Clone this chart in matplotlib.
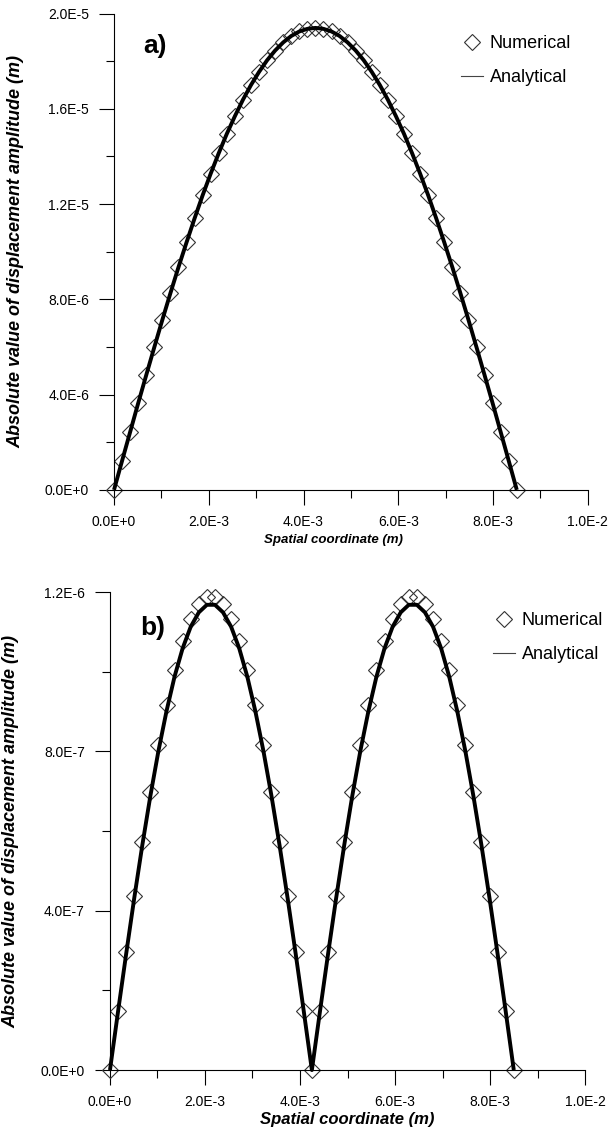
import matplotlib
matplotlib.use("Agg")
import matplotlib.pyplot as plt
from matplotlib.lines import Line2D
from matplotlib.ticker import FixedLocator, MultipleLocator

plt.rcParams['font.family'] = ['Liberation Sans', 'DejaVu Sans']

# spatial coordinate of the nodes (mm)
x_mm = [0.0, 0.17, 0.34, 0.51, 0.68, 0.85, 1.02, 1.19, 1.36, 1.53,
        1.70, 1.87, 2.04, 2.21, 2.38, 2.55, 2.72, 2.89, 3.06, 3.23,
        3.40, 3.57, 3.74, 3.91, 4.08, 4.25, 4.42, 4.59, 4.76, 4.93,
        5.10, 5.27, 5.44, 5.61, 5.78, 5.95, 6.12, 6.29, 6.46, 6.63,
        6.80, 6.97, 7.14, 7.31, 7.48, 7.65, 7.82, 7.99, 8.16, 8.33, 8.50]

# panel a) amplitudes (1E-5 m)
num_a = [0.0, 0.122, 0.243, 0.364, 0.482, 0.599, 0.714, 0.826, 0.935, 1.039,
         1.140, 1.237, 1.328, 1.414, 1.495, 1.569, 1.638, 1.700, 1.755, 1.804,
         1.845, 1.879, 1.906, 1.925, 1.936, 1.940, 1.936, 1.925, 1.906, 1.879,
         1.845, 1.804, 1.755, 1.700, 1.638, 1.569, 1.495, 1.414, 1.328, 1.237,
         1.140, 1.039, 0.935, 0.826, 0.714, 0.599, 0.482, 0.364, 0.243, 0.122, 0.0]
ana_a = [0.0, 0.122, 0.243, 0.364, 0.482, 0.599, 0.714, 0.826, 0.935, 1.039,
         1.140, 1.237, 1.328, 1.414, 1.495, 1.569, 1.638, 1.700, 1.755, 1.804,
         1.845, 1.879, 1.906, 1.925, 1.936, 1.940, 1.936, 1.925, 1.906, 1.879,
         1.845, 1.804, 1.755, 1.700, 1.638, 1.569, 1.495, 1.414, 1.328, 1.237,
         1.140, 1.039, 0.935, 0.826, 0.714, 0.599, 0.482, 0.364, 0.243, 0.122, 0.0]

# panel b) amplitudes (1E-6 m)
num_b = [0.0, 0.149, 0.296, 0.438, 0.573, 0.699, 0.815, 0.917, 1.005, 1.077,
         1.132, 1.169, 1.188, 1.188, 1.169, 1.132, 1.077, 1.005, 0.917, 0.815,
         0.699, 0.573, 0.438, 0.296, 0.149, 0.0, 0.149, 0.296, 0.438, 0.573,
         0.699, 0.815, 0.917, 1.005, 1.077, 1.132, 1.169, 1.188, 1.188, 1.169,
         1.132, 1.077, 1.005, 0.917, 0.815, 0.699, 0.573, 0.438, 0.296, 0.149, 0.0]
ana_b = [0.0, 0.147, 0.291, 0.431, 0.564, 0.688, 0.801, 0.901, 0.988, 1.059,
         1.113, 1.149, 1.168, 1.168, 1.149, 1.113, 1.059, 0.988, 0.901, 0.801,
         0.688, 0.564, 0.431, 0.291, 0.147, 0.0, 0.147, 0.291, 0.431, 0.564,
         0.688, 0.801, 0.901, 0.988, 1.059, 1.113, 1.149, 1.168, 1.168, 1.149,
         1.113, 1.059, 0.988, 0.901, 0.801, 0.688, 0.564, 0.431, 0.291, 0.147, 0.0]

x_ticks = [0.0, 2e-3, 4e-3, 6e-3, 8e-3, 1e-2]
x_tick_labels = ["0.0E+0", "2.0E-3", "4.0E-3", "6.0E-3", "8.0E-3", "1.0E-2"]
y_ticks_a = [0.0, 4e-6, 8e-6, 1.2e-5, 1.6e-5, 2.0e-5]
y_tick_labels_a = ["0.0E+0", "4.0E-6", "8.0E-6", "1.2E-5", "1.6E-5", "2.0E-5"]
y_ticks_b = [0.0, 4e-7, 8e-7, 1.2e-6]
y_tick_labels_b = ["0.0E+0", "4.0E-7", "8.0E-7", "1.2E-6"]

YLABEL = "Absolute value of displacement amplitude (m)"
XLABEL = "Spatial coordinate (m)"

fig = plt.figure(figsize=(6.13, 11.34), dpi=100)
ax_a = fig.add_axes([0.186, 0.568, 0.773, 0.420])
ax_b = fig.add_axes([0.1794, 0.0564, 0.775, 0.4215])


def draw_panel(ax, num, ana, scale, y_ticks, y_labels, y_minor, tag, legend_xy,
               xlabel_xy, ylabel_xy, xlabel_size):
    xs = [v * 1e-3 for v in x_mm]
    ax.plot(xs, [v * scale for v in num], ls='none', marker='D', ms=7.8,
            mfc='none', mec='#333333', mew=0.8, zorder=2, clip_on=False)
    ax.plot(xs, [v * scale for v in ana], color='black', lw=2.8, zorder=3,
            solid_capstyle='butt', clip_on=False)

    ax.set_xlim(0, 1e-2)
    ax.set_ylim(0, y_ticks[-1])
    ax.xaxis.set_major_locator(FixedLocator(x_ticks))
    ax.set_xticklabels(x_tick_labels)
    ax.xaxis.set_minor_locator(MultipleLocator(1e-3))
    ax.yaxis.set_major_locator(FixedLocator(y_ticks))
    ax.set_yticklabels(y_labels)
    ax.yaxis.set_minor_locator(MultipleLocator(y_minor))

    for side in ('top', 'right'):
        ax.spines[side].set_visible(False)
    for side in ('left', 'bottom'):
        ax.spines[side].set_linewidth(0.8)
    ax.tick_params(which='major', direction='out', length=11, width=0.8,
                   pad=7, labelsize=10)
    ax.tick_params(which='minor', direction='out', length=6, width=0.8)

    ax.set_xlabel(XLABEL, fontsize=xlabel_size, fontweight='bold', style='italic')
    ax.set_ylabel(YLABEL, fontsize=13, fontweight='bold', style='italic')
    ax.xaxis.set_label_coords(*xlabel_xy)
    ax.yaxis.set_label_coords(*ylabel_xy)

    ax.text(tag[1], tag[2], tag[0], transform=ax.transAxes, fontsize=19,
            fontweight='bold', va='center', ha='left')

    handles = [Line2D([], [], ls='none', marker='D', ms=7.8, mfc='none',
                      mec='#333333', mew=0.8),
               Line2D([], [], color='#444444', lw=0.8)]
    ax.legend(handles, ['Numerical', 'Analytical'], loc='upper left',
              bbox_to_anchor=legend_xy, frameon=False, fontsize=13,
              handlelength=1.2, handletextpad=0.4, labelspacing=0.95,
              borderpad=0, borderaxespad=0)


draw_panel(ax_a, num_a, ana_a, 1e-5, y_ticks_a, y_tick_labels_a, 2e-6,
           ('a)', 0.061, 0.933), (0.732, 0.955), (0.464, -0.092), (-0.19, 0.5), 9.5)
draw_panel(ax_b, num_b, ana_b, 1e-6, y_ticks_b, y_tick_labels_b, 2e-7,
           ('b)', 0.063, 0.925), (0.806, 0.958), (0.499, -0.088), (-0.19, 0.5), 12)

fig.savefig('out.png', dpi=100)
